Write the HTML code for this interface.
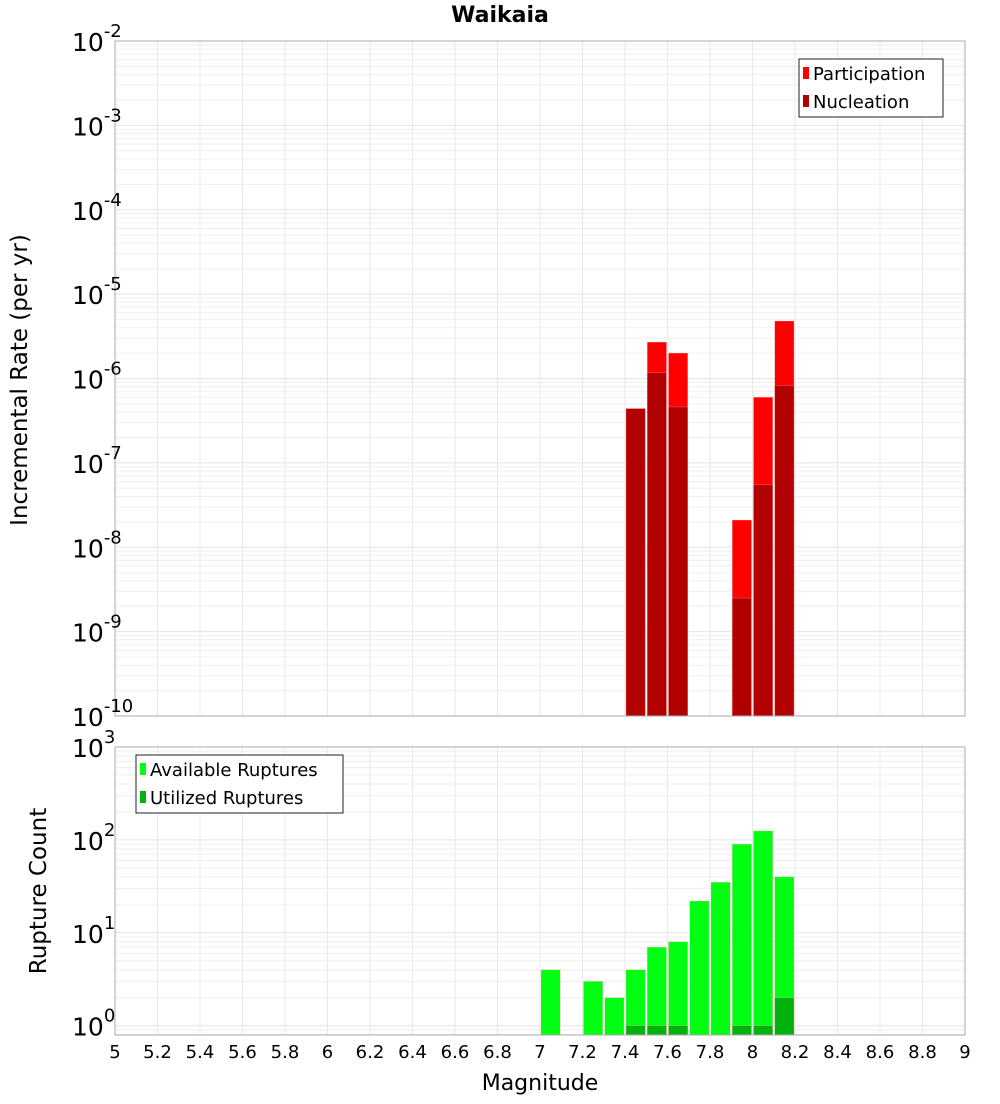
<!DOCTYPE html>
<html><head><meta charset="utf-8"><style>
body{margin:0;background:#fff;font-family:"DejaVu Sans","Liberation Sans",sans-serif}
</style></head><body>
<svg id="c" width="1000" height="1100" xmlns="http://www.w3.org/2000/svg" font-family="DejaVu Sans, Liberation Sans, sans-serif"></svg>
<script>
const magBins=[7.0,7.2,7.3,7.4,7.5,7.6,7.7,7.8,7.9,8.0,8.1];
const partMags=[7.4,7.5,7.6,7.9,8.0,8.1];
const participation=[4.4e-7,2.7e-6,2.0e-6,2.1e-8,6.0e-7,4.8e-6];
const nucleation=[4.4e-7,1.17e-6,4.6e-7,2.5e-9,5.5e-8,8.3e-7];
const available=[4,3,2,4,7,8,22,35,90,125,40];
const utilMags=[7.4,7.5,7.6,7.9,8.0,8.1];
const utilized=[1,1,1,1,1,2];
const xTicks=[5,5.2,5.4,5.6,5.8,6,6.2,6.4,6.6,6.8,7,7.2,7.4,7.6,7.8,8,8.2,8.4,8.6,8.8,9];
const topExps=[-2,-3,-4,-5,-6,-7,-8,-9,-10];
const botExps=[3,2,1,0];

const S=document.getElementById('c'),NS='http://www.w3.org/2000/svg';
function el(t,a,p){const e=document.createElementNS(NS,t);for(const k in a)e.setAttribute(k,a[k]);(p||S).appendChild(e);return e;}
const X0=115,X1=965;
const x=m=>X0+(m-5)/4*(X1-X0);
const T0=41,T1=716,yT=v=>T0+(-2-Math.log10(v))/8*(T1-T0);
const B0=747,B1=1035,bMin=-0.1,yB=v=>B0+(3-Math.log10(v))/(3-bMin)*(B1-B0);

function grid(top,bot,yf,lo,hi){
  const g=el('g',{});
  
  for(let e=lo;e<hi;e++)for(let k=1;k<10;k++){const v=k*Math.pow(10,e),y=yf(v);if(y<top||y>bot)continue;
    el('line',{x1:X0,x2:X1,y1:y,y2:y,stroke:k==1?'#e4e4e4':'#efefef','stroke-width':1},g);}
  xTicks.forEach(t=>el('line',{x1:x(t),x2:x(t),y1:top,y2:bot,stroke:'#e8e8e8','stroke-width':1},g));
}
grid(T0,T1,yT,-10,-2);grid(B0,B1,yB,-1,3);

function bar(m,v,yf,base,fill,name){
  const y=yf(v);const r=el('rect',{x:x(m)+1,y:y,width:x(m+0.1)-x(m)-2,height:base-y,fill:fill,stroke:'#ffb0b0','stroke-width':0.6,'stroke-opacity':0.5});
  
}
partMags.forEach((m,i)=>bar(m,participation[i],yT,T1,'#ff0000','participation-bar'));
partMags.forEach((m,i)=>bar(m,nucleation[i],yT,T1,'#b20000','nucleation-bar'));
magBins.forEach((m,i)=>bar(m,available[i],yB,B1,'#00ff13','available-bar'));
utilMags.forEach((m,i)=>bar(m,utilized[i],yB,B1,'#00b20d','utilized-bar'));

[[T0,T1],[B0,B1]].forEach(([a,b],i)=>{const r=el('rect',{x:X0,y:a,width:X1-X0,height:b-a,fill:'none',stroke:'#aaa','stroke-width':1});
  });

function ylab(e,y){const t=el('text',{x:72,y:y+10,'text-anchor':'start','font-size':25,fill:'#000'});
  
  t.innerHTML='10<tspan dy="-14" font-size="18">'+e+'</tspan>';}
topExps.forEach(e=>ylab(e,yT(Math.pow(10,e))));
botExps.forEach(e=>ylab(e,yB(Math.pow(10,e))));

xTicks.forEach(t=>{const tx=el('text',{x:x(t),y:1058,'text-anchor':'middle','font-size':18,fill:'#000'});
  tx.textContent=String(t);});

function txt(s,a,name){const t=el('text',a);t.textContent=s;return t;}
txt('Waikaia',{x:500,y:22,'text-anchor':'middle','font-size':22,'font-weight':'bold',fill:'#000'},'chart-title');
txt('Magnitude',{x:540,y:1090,'text-anchor':'middle','font-size':22,fill:'#000'},'x-axis-title');
txt('Incremental Rate (per yr)',{x:0,y:0,'text-anchor':'middle','font-size':23,fill:'#000',transform:'translate(27,380) rotate(-90)'},'top-y-axis-title');
txt('Rupture Count',{x:0,y:0,'text-anchor':'middle','font-size':23,fill:'#000',transform:'translate(46,891) rotate(-90)'},'bottom-y-axis-title');

function legend(x0,y0,w,items,name){const g=el('g',{});
  el('rect',{x:x0,y:y0,width:w,height:58,fill:'#fff',stroke:'#222','stroke-width':1},g);
  items.forEach(([lab,c],i)=>{const cy=y0+14+i*28;
    el('rect',{x:x0+4,y:cy-6,width:6,height:12,fill:c},g);
    const t=el('text',{x:x0+14,y:cy+7,'font-size':18,fill:'#000'},g);t.textContent=lab;
    });}
legend(799,59,144,[['Participation','#ff0000'],['Nucleation','#b20000']],'top-legend');
legend(136,755,207,[['Available Ruptures','#00ff13'],['Utilized Ruptures','#00b20d']],'bottom-legend');
</script>
</body></html>
